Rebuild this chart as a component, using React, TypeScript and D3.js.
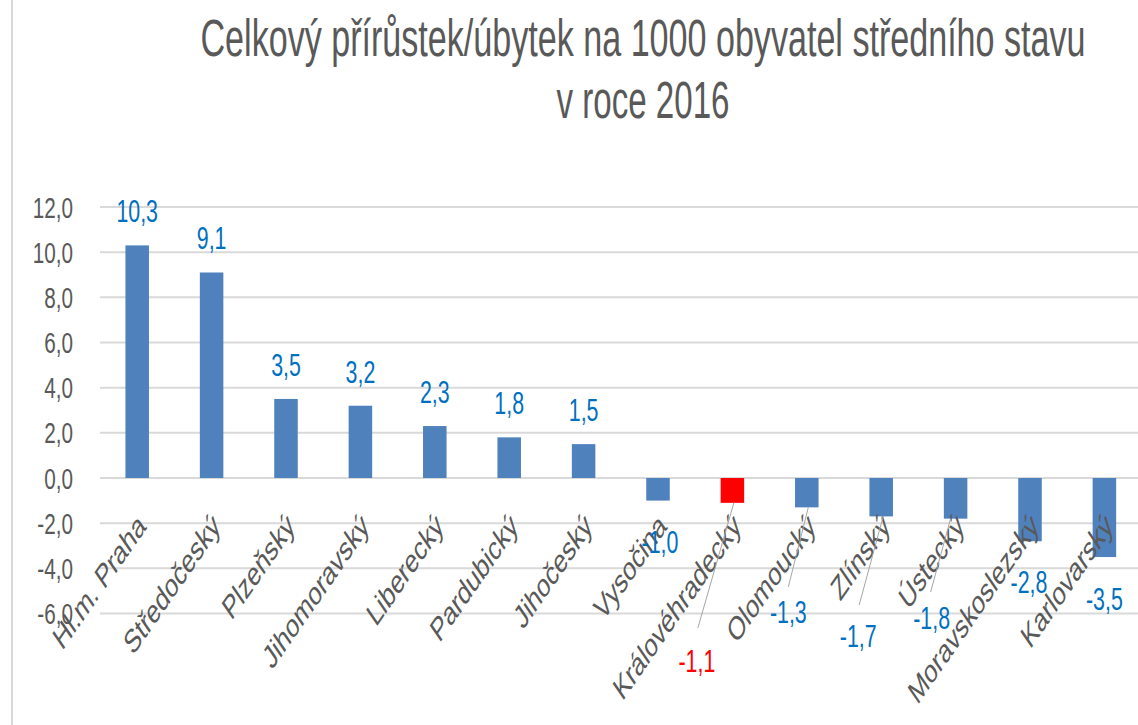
import React from "react";
import * as d3 from "d3";

const categories = [
  "Hl.m. Praha",
  "Středočeský",
  "Plzeňský",
  "Jihomoravský",
  "Liberecký",
  "Pardubický",
  "Jihočeský",
  "Vysočina",
  "Královéhradecký",
  "Olomoucký",
  "Zlínský",
  "Ústecký",
  "Moravskoslezský",
  "Karlovarský",
];
const values = [10.3, 9.1, 3.5, 3.2, 2.3, 1.8, 1.5, -1.0, -1.1, -1.3, -1.7, -1.8, -2.8, -3.5];
const highlighted = ["Královéhradecký"];
const yTicks = [-6, -4, -2, 0, 2, 4, 6, 8, 10, 12];
const titleLines = ["Celkový přírůstek/úbytek na 1000 obyvatel středního stavu", "v roce 2016"];

// layout: manual label offsets for the negative bars (dx from band centre, dy of baseline below bar end)
const negLabelOffsets: Record<string, [number, number]> = {
  "Vysočina": [2, 52],
  "Královéhradecký": [-35.5, 169],
  "Olomoucký": [-18.5, 115.6],
  "Zlínský": [-23, 130.6],
  "Ústecký": [-24, 110.4],
  "Moravskoslezský": [-1, 51.8],
  "Karlovarský": [0, 53],
};
// leader lines: [start dx from label centre, start dy from label baseline, end dx from band centre]
const leaders: Record<string, [number, number, number]> = {
  "Královéhradecký": [1, -44, 1.5],
  "Olomoucký": [0, -36, 1.5],
  "Zlínský": [1, -42, 2],
  "Ústecký": [-1, -37, -5],
};

const W = 1138;
const H = 725;
const SX = 0.69;
const FONT = "'Liberation Sans', Arial, sans-serif";
const GREY = "#595959";
const BLUE_LABEL = "#0070C0";
const BAR = "#4F81BD";
const RED = "#FF0000";

export default function App() {
  const x = d3
    .scaleBand<string>()
    .domain(categories)
    .range([100, 1141.6])
    .paddingInner(0.684)
    .paddingOuter(0.342);
  const y = d3.scaleLinear().domain([-6, 12]).range([613.5, 207]);
  const fmt = (v: number) => d3.format(".1f")(v).replace(".", ",").replace("−", "-");

  return (
    <svg
      width={W}
      height={H}
      style={{ position: "absolute", left: 0, top: 0, background: "#fff" }}
      fontFamily={FONT}
    >
      <rect x={0} y={0} width={W} height={H} fill="#fff" />
      <line x1={12} x2={12} y1={0} y2={H} stroke="#D9D9D9" strokeWidth={2} />

      {/* title */}
      <text
        x={643}
        y={56}
        textAnchor="middle"
        fontSize={51}
        fill={GREY}
        textLength={885}
        lengthAdjust="spacingAndGlyphs"
      >
        {titleLines[0]}
      </text>
      <text
        x={643}
        y={118}
        textAnchor="middle"
        fontSize={51}
        fill={GREY}
        textLength={173}
        lengthAdjust="spacingAndGlyphs"
      >
        {titleLines[1]}
      </text>

      {/* gridlines */}
      {yTicks.map((t) => (
        <line key={"g" + t} x1={100} x2={W} y1={y(t)} y2={y(t)} stroke="#D9D9D9" strokeWidth={2} />
      ))}

      {/* y tick labels */}
      {yTicks.map((t) => (
        <g key={"t" + t} transform={`translate(73,${y(t) + 10.5}) scale(${SX},1)`}>
          <text textAnchor="end" fontSize={30} fill={GREY}>
            {fmt(t)}
          </text>
        </g>
      ))}

      {/* bars */}
      {categories.map((c, i) => {
        const v = values[i];
        const y0 = y(0);
        const y1 = y(v);
        return (
          <rect
            key={"b" + c}
            x={x(c)!}
            width={x.bandwidth()}
            y={Math.min(y0, y1)}
            height={Math.abs(y1 - y0)}
            fill={highlighted.includes(c) ? RED : BAR}
          />
        );
      })}

      {/* category labels */}
      {categories.map((c) => {
        const cx = x(c)! + x.bandwidth() / 2;
        return (
          <g key={"c" + c} transform={`translate(${cx + 10},528) scale(${SX},1) rotate(-45)`}>
            <text textAnchor="end" fontSize={33} fill={GREY}>
              {c}
            </text>
          </g>
        );
      })}

      {/* leader lines */}
      {categories.map((c, i) => {
        const l = leaders[c];
        const off = negLabelOffsets[c];
        if (!l || !off) return null;
        const cx = x(c)! + x.bandwidth() / 2;
        const lx = cx + off[0];
        const ly = y(values[i]) + off[1];
        return (
          <line
            key={"l" + c}
            x1={lx + l[0]}
            y1={ly + l[1]}
            x2={cx + l[2]}
            y2={y(values[i])}
            stroke="#A6A6A6"
            strokeWidth={1}
          />
        );
      })}

      {/* data labels */}
      {categories.map((c, i) => {
        const v = values[i];
        const cx = x(c)! + x.bandwidth() / 2;
        let lx = cx;
        let ly = y(v) - 23;
        if (v < 0) {
          const off = negLabelOffsets[c] || [0, 50];
          lx = cx + off[0];
          ly = y(v) + off[1];
        }
        return (
          <g key={"d" + c} transform={`translate(${lx},${ly}) scale(${SX},1)`}>
            <text textAnchor="middle" fontSize={31} fill={highlighted.includes(c) ? RED : BLUE_LABEL}>
              {fmt(v)}
            </text>
          </g>
        );
      })}
    </svg>
  );
}
